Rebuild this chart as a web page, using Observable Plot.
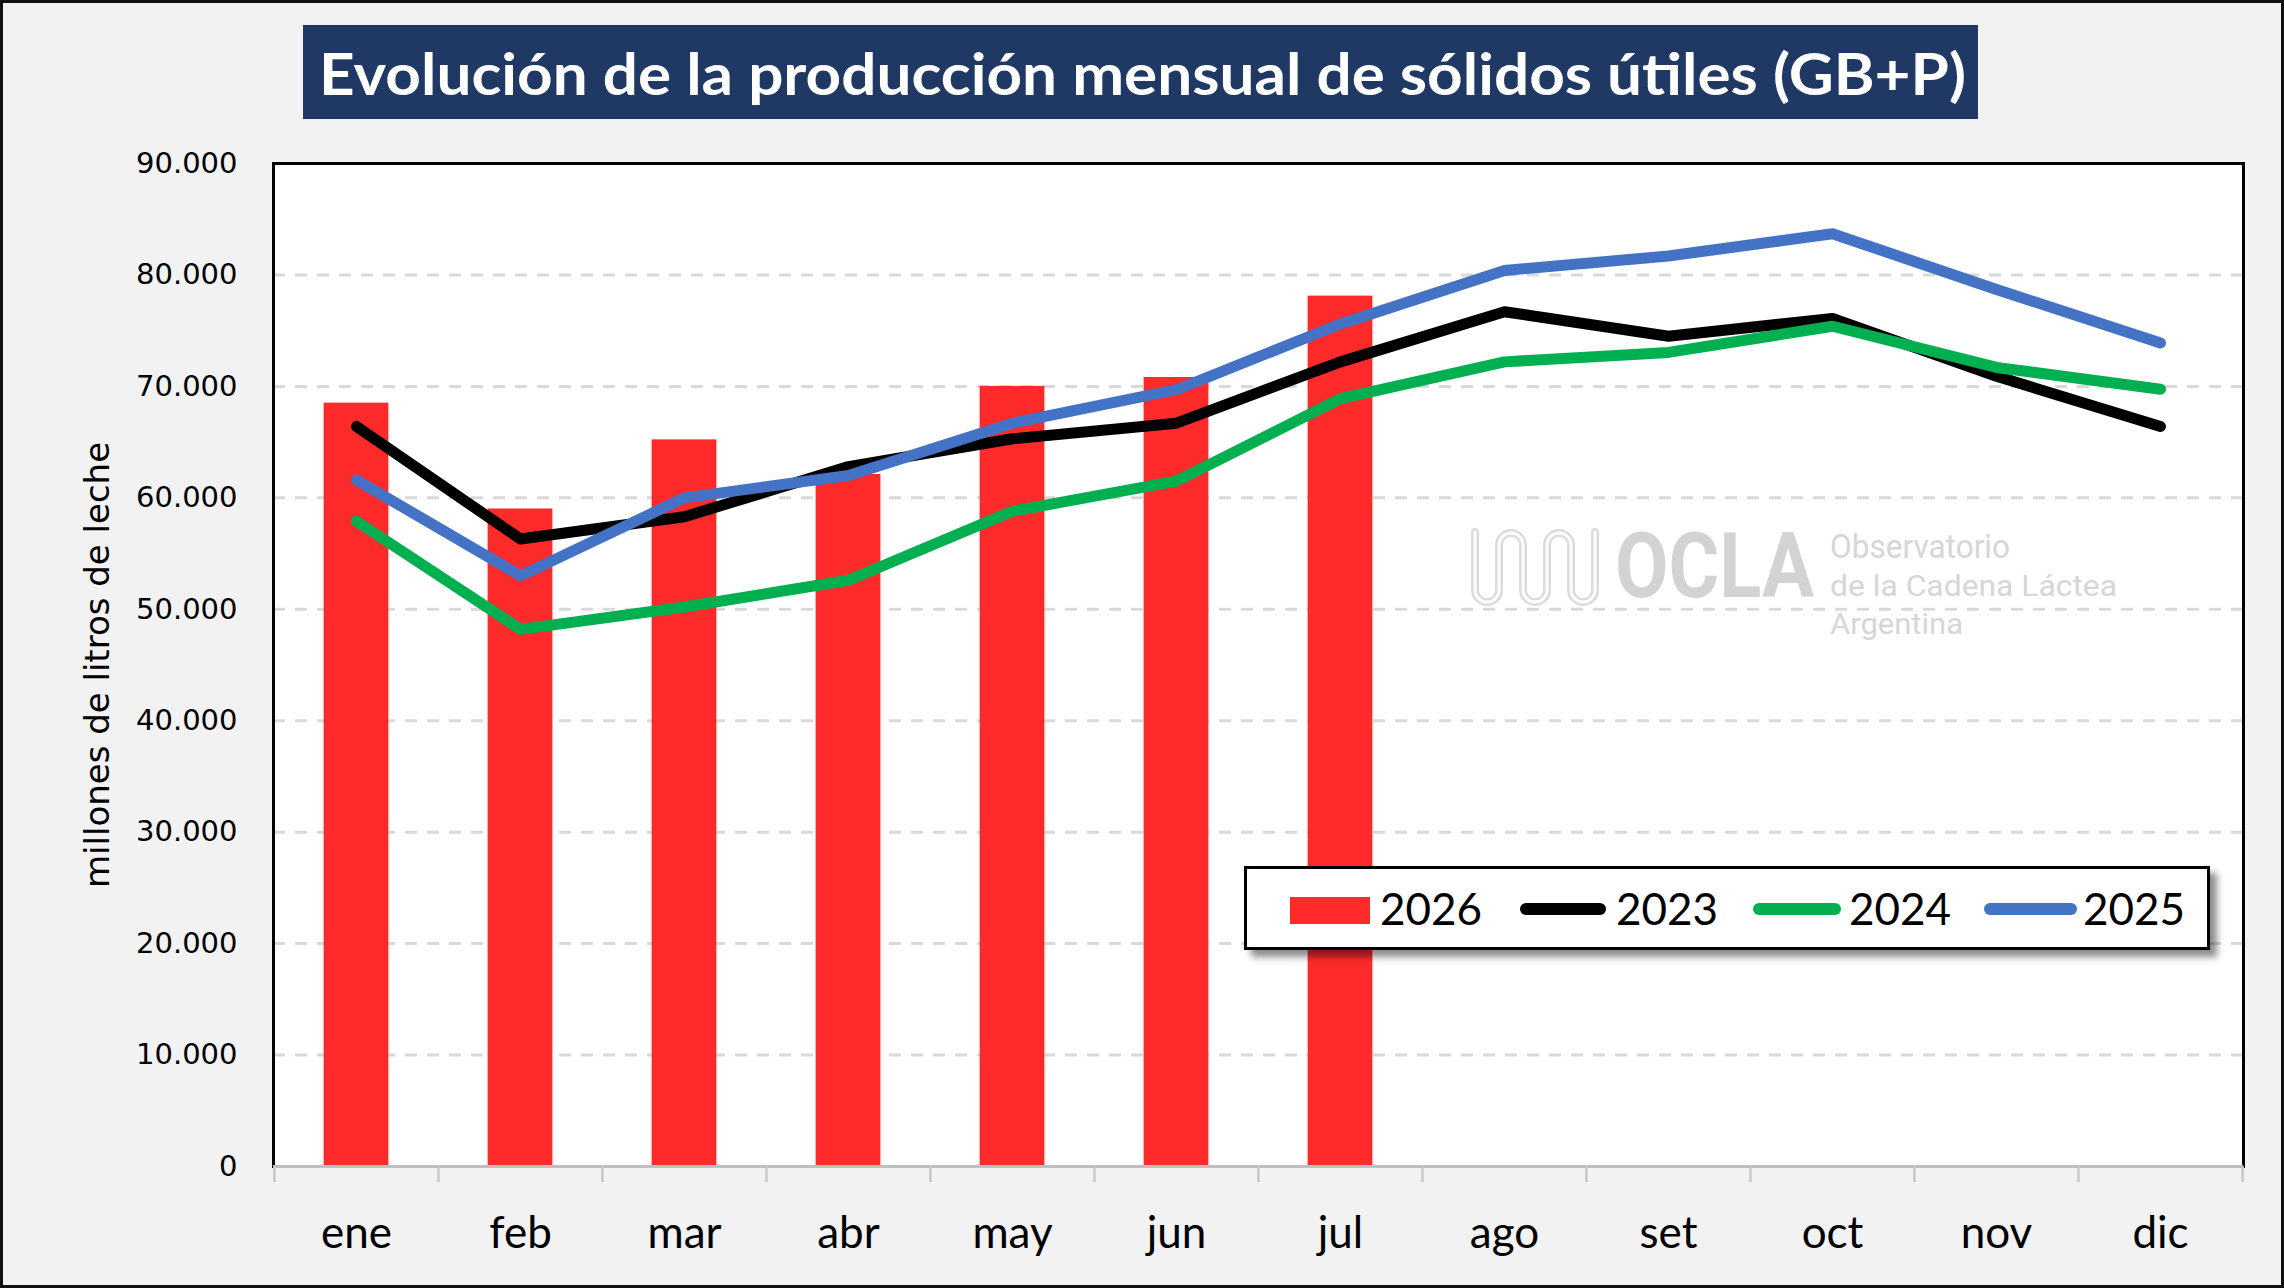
<!DOCTYPE html>
<html><head><meta charset="utf-8">
<script src="https://cdn.jsdelivr.net/npm/d3@7"></script>
<script src="https://cdn.jsdelivr.net/npm/@observablehq/plot@0.6"></script>
<style>
html,body{margin:0;padding:0;background:#f2f2f2;}
#page{position:relative;width:2284px;height:1288px;overflow:hidden;background:#f2f2f2;}
#border{position:absolute;left:0;top:0;width:2284px;height:1288px;box-sizing:border-box;border:3px solid #111;pointer-events:none;z-index:10;}
#title{position:absolute;left:303px;top:25px;width:1675px;height:94px;background:#203864;}
#title svg{display:block;}
#chart{position:absolute;left:0;top:130px;}
#legend{position:absolute;left:1244px;top:866px;width:966px;height:84px;box-sizing:border-box;border:3px solid #000;background:#fff;box-shadow:7px 7px 7px rgba(0,0,0,0.45);z-index:5;}
#legend svg{position:absolute;left:-3px;top:-3px;}
#wm{position:absolute;left:0;top:0;z-index:4;pointer-events:none;}
</style></head>
<body>
<div id="page">
  <div id="title"></div>
  <div id="chart"></div>
  <div id="legend"></div>
  <svg id="wm" width="2284" height="1288"></svg>
  <div id="border"></div>
</div>
<script>
// ---- data ----
const titleText = "Evolución de la producción mensual de sólidos útiles (GB+P)";
const yLabel = "millones de litros de leche";
const months = ["ene","feb","mar","abr","may","jun","jul","ago","set","oct","nov","dic"];
const prod2026 = [68500, 59000, 65200, 62100, 70000, 70800, 78100];
const prod2023 = [66400, 56300, 58300, 62800, 65300, 66700, 72200, 76700, 74500, 76100, 70900, 66400];
const prod2024 = [57900, 48200, 50200, 52600, 58800, 61500, 68900, 72200, 73050, 75400, 71700, 69750];
const prod2025 = [61600, 53000, 60000, 62000, 66700, 69700, 75600, 80400, 81700, 83700, 78700, 73900];
const yTicks = [0, 10000, 20000, 30000, 40000, 50000, 60000, 70000, 80000, 90000];
const gridTicks = [10000, 20000, 30000, 40000, 50000, 60000, 70000, 80000];
const lineYears = ["2023", "2024", "2025"];
const lineColors = ["#000000", "#00b050", "#4472c4"];
const barYear = "2026";
const barColor = "#ff2a2a";
const legendLabels = ["2026", "2023", "2024", "2025"];
const wmLines = ["Observatorio", "de la Cadena Láctea", "Argentina"];

// ---- title ----
document.getElementById("title").innerHTML =
  `<svg width="1675" height="94"><text x="16" y="70" fill="#fff" font-family="Lato" font-weight="700" font-size="58" textLength="1647" lengthAdjust="spacingAndGlyphs">${titleText}</text></svg>`;

// ---- chart ----
const W = 2284, H = 1130, ML = 273, MR = 41, MT = 33, MB = 94;
const bw = (W - ML - MR) / months.length;
const bars = prod2026.map((v, i) => ({month: months[i], value: v}));
const series = [prod2023, prod2024, prod2025];
const lines = series.flatMap((arr, k) => arr.map((v, i) => ({year: lineYears[k], month: months[i], value: v})));
const fmt = v => v === 0 ? "0" : d3.format(",")(v).replace(/,/g, ".");

const chart = Plot.plot({
  width: W, height: H,
  marginLeft: ML, marginRight: MR, marginTop: MT, marginBottom: MB,
  style: {background: "transparent", color: "#000", fontFamily: "Lato", overflow: "visible"},
  x: {type: "band", domain: months, padding: 0},
  y: {domain: [0, 90000]},
  color: {domain: lineYears, range: lineColors},
  marks: [
    Plot.frame({fill: "#fff", stroke: "none"}),
    Plot.gridY(gridTicks, {stroke: "#d9d9d9", strokeOpacity: 1, strokeWidth: 3, strokeDasharray: "12,10"}),
    Plot.barY(bars, {x: "month", y: "value", fill: barColor, insetLeft: 49.6, insetRight: 49.6}),
    Plot.line(lines, {x: "month", y: "value", z: "year", stroke: "year", strokeWidth: 11, strokeLinecap: "round", strokeLinejoin: "round"}),
    Plot.frame({stroke: "#000", strokeWidth: 3}),
    Plot.ruleY([0], {stroke: "#bfbfbf", strokeWidth: 3}),
    Plot.axisY({ticks: yTicks, tickFormat: fmt, tickSize: 0, tickPadding: 36, fontFamily: "DejaVu Sans", fontSize: 29, fill: "#000", label: null}),
    Plot.axisX({tickSize: 0, tickPadding: 50, fontSize: 44, fontFamily: "Lato", fill: "#000", label: null}),
    Plot.axisX({tickSize: 16, tickFormat: () => "", dx: -bw / 2, stroke: "#c8c8c8", strokeWidth: 2.5, label: null}),
    Plot.axisX({ticks: [months[months.length - 1]], tickSize: 16, tickFormat: () => "", dx: bw / 2, stroke: "#c8c8c8", strokeWidth: 2.5, label: null}),
    Plot.text([yLabel], {text: d => d, frameAnchor: "left", textAnchor: "middle", dx: -175, rotate: -90, fontSize: 34, fontFamily: "DejaVu Sans", fill: "#000"})
  ]
});
document.getElementById("chart").appendChild(chart);

// ---- legend ----
const legendColors = [barColor, ...lineColors];
const swatchX = [46, 282, 515, 746];
const swatchX2 = [126, 356, 591, 827];
const textX = [136, 372, 605, 839];
let lg = `<svg width="966" height="84">`;
legendLabels.forEach((lab, i) => {
  if (i === 0) {
    lg += `<rect x="${swatchX[i]}" y="31" width="${swatchX2[i] - swatchX[i]}" height="27" fill="${legendColors[i]}"/>`;
  } else {
    lg += `<line x1="${swatchX[i]}" x2="${swatchX2[i]}" y1="43" y2="43" stroke="${legendColors[i]}" stroke-width="12" stroke-linecap="round"/>`;
  }
  lg += `<text x="${textX[i]}" y="59" font-family="Lato" font-size="44" fill="#000">${lab}</text>`;
});
lg += `</svg>`;
document.getElementById("legend").innerHTML = lg;

// ---- watermark ----
const wm = document.getElementById("wm");
const wave = "M1475,532 V590 A12,12 0 0 0 1499,590 V545 A12,12 0 0 1 1523,545 V590 A12,12 0 0 0 1547,590 V545 A12,12 0 0 1 1571,545 V590 A12,12 0 0 0 1595,590 V532";
wm.innerHTML = `
<g fill="none" stroke-linecap="round" stroke-linejoin="round">
  <path d="${wave}" stroke="#dcdcdc" stroke-width="8"/>
  <path d="${wave}" stroke="#ffffff" stroke-width="3"/>
</g>
<text x="1615" y="597" font-family="Roboto" font-weight="700" font-size="91" fill="#d3d3d3" textLength="199" lengthAdjust="spacingAndGlyphs">OCLA</text>
<text x="1830" y="558" font-family="Roboto" font-size="33" fill="#d6d6d6" textLength="180" lengthAdjust="spacingAndGlyphs">${wmLines[0]}</text>
<text x="1830" y="596" font-family="Roboto" font-size="30" fill="#d6d6d6" textLength="287" lengthAdjust="spacingAndGlyphs">${wmLines[1]}</text>
<text x="1830" y="634" font-family="Roboto" font-size="30" fill="#d6d6d6" textLength="133" lengthAdjust="spacingAndGlyphs">${wmLines[2]}</text>`;
</script>
</body></html>
